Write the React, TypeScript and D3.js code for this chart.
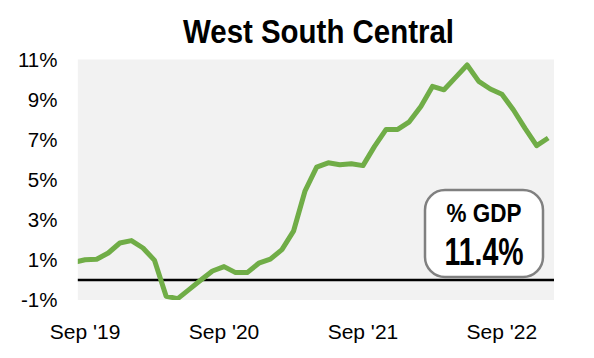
import React from "react";
import * as d3 from "d3";

// Monthly values, % of GDP (Aug '19 – Jan '23)
const months: string[] = [
  "2019-08", "2019-09", "2019-10", "2019-11", "2019-12",
  "2020-01", "2020-02", "2020-03", "2020-04", "2020-05", "2020-06", "2020-07", "2020-08", "2020-09", "2020-10", "2020-11", "2020-12",
  "2021-01", "2021-02", "2021-03", "2021-04", "2021-05", "2021-06", "2021-07", "2021-08", "2021-09", "2021-10", "2021-11", "2021-12",
  "2022-01", "2022-02", "2022-03", "2022-04", "2022-05", "2022-06", "2022-07", "2022-08", "2022-09", "2022-10", "2022-11", "2022-12",
  "2023-01",
];
const values: number[] = [
  0.88, 1.01, 1.04, 1.35, 1.85,
  1.97, 1.6, 0.98, -0.81, -0.93, -0.47, 0.0, 0.45, 0.67, 0.37, 0.37, 0.84,
  1.04, 1.52, 2.44, 4.46, 5.64, 5.86, 5.76, 5.81, 5.72, 6.68, 7.53, 7.53,
  7.91, 8.67, 9.68, 9.51, 10.13, 10.75, 9.93, 9.55, 9.29, 8.5, 7.58, 6.72,
  7.1,
];
const yTicks: number[] = [-1, 1, 3, 5, 7, 9, 11];
const xTickMonths: string[] = ["2019-09", "2020-09", "2021-09", "2022-09"];
const xTickLabels: string[] = ["Sep '19", "Sep '20", "Sep '21", "Sep '22"];
const title = "West South Central";
const boxLabel = "% GDP";
const boxValue = "11.4%";

const W = 594;
const H = 358;
const plot = { left: 77.8, right: 554, top: 59.5, bottom: 300 };
const FONT = "'Liberation Sans', Arial, sans-serif";

function monthIndex(m: string): number {
  const [y, mo] = m.split("-").map(Number);
  return (y - 2019) * 12 + (mo - 9); // Sep '19 = 0
}

export default function App() {
  const x = d3
    .scaleLinear()
    .domain([-0.63, 40.5])
    .range([plot.left, plot.right]);
  const y = d3.scaleLinear().domain([-1, 11]).range([plot.bottom, plot.top + 0.5]);

  const data = months.map((m, i) => ({ i: monthIndex(m), v: values[i] }));
  const line = d3
    .line<{ i: number; v: number }>()
    .x((d) => x(d.i))
    .y((d) => y(d.v));

  const box = { x: 425, y: 190, w: 118, h: 87 };
  const boxCx = box.x + box.w / 2;

  return (
    <svg
      width={W}
      height={H}
      style={{ position: "absolute", left: 0, top: 0, background: "#ffffff" }}
    >
      <defs>
        <clipPath id="plotClip">
          <rect x={plot.left} y={plot.top} width={plot.right - plot.left} height={plot.bottom - plot.top} />
        </clipPath>
      </defs>
      <text
        x={318.5}
        y={43}
        textAnchor="middle"
        fontFamily={FONT}
        fontWeight="bold"
        fontSize={34}
        textLength={271}
        lengthAdjust="spacingAndGlyphs"
        fill="#000"
      >
        {title}
      </text>
      <rect
        x={plot.left}
        y={plot.top}
        width={plot.right - plot.left}
        height={plot.bottom - plot.top}
        fill="#f2f2f2"
      />
      {yTicks.map((t) => (
        <text
          key={t}
          x={57.5}
          y={y(t) + 7.3}
          textAnchor="end"
          fontFamily={FONT}
          fontSize={20.5}
          fill="#000"
        >
          {`${t}%`}
        </text>
      ))}
      {xTickMonths.map((m, k) => (
        <text
          key={m}
          x={x(monthIndex(m))}
          y={338.5}
          textAnchor="middle"
          fontFamily={FONT}
          fontSize={21}
          fill="#000"
        >
          {xTickLabels[k]}
        </text>
      ))}
      <line
        x1={plot.left}
        x2={plot.right}
        y1={y(0)}
        y2={y(0)}
        stroke="#000"
        strokeWidth={2.5}
      />
      <path
        d={line(data) ?? ""}
        fill="none"
        stroke="#70ad47"
        strokeWidth={5}
        strokeLinejoin="round"
        clipPath="url(#plotClip)"
      />
      <rect
        x={box.x}
        y={box.y}
        width={box.w}
        height={box.h}
        rx={20}
        ry={20}
        fill="#ffffff"
        stroke="#808080"
        strokeWidth={2.5}
      />
      <text
        x={boxCx}
        y={222}
        textAnchor="middle"
        fontFamily={FONT}
        fontWeight="bold"
        fontSize={25}
        textLength={75}
        lengthAdjust="spacingAndGlyphs"
        fill="#000"
      >
        {boxLabel}
      </text>
      <text
        x={boxCx}
        y={264.5}
        textAnchor="middle"
        fontFamily={FONT}
        fontWeight="bold"
        fontSize={38}
        textLength={79}
        lengthAdjust="spacingAndGlyphs"
        fill="#000"
      >
        {boxValue}
      </text>
    </svg>
  );
}
